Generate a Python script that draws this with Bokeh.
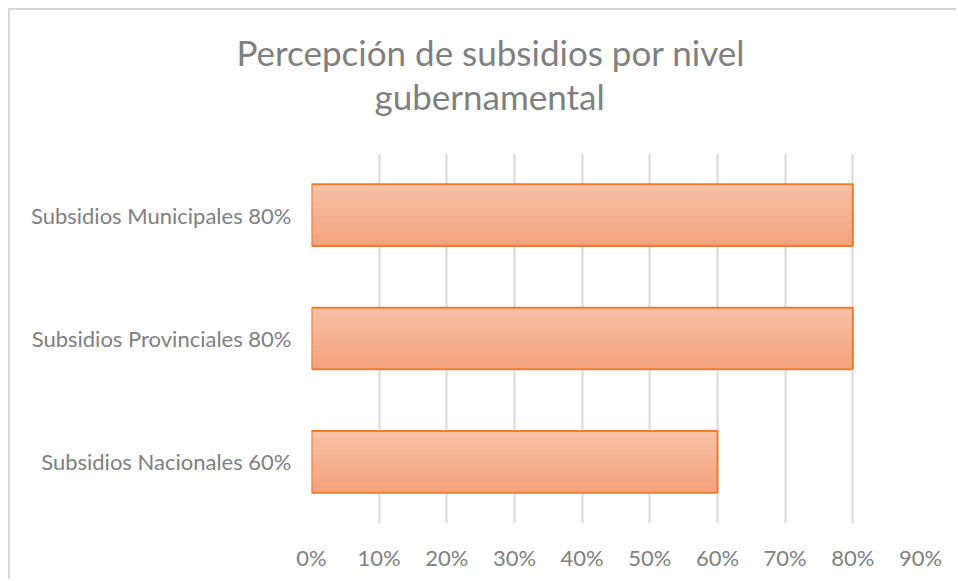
from bokeh.plotting import figure
from bokeh.models import Title, NumeralTickFormatter, FixedTicker, Range1d, ColumnDataSource
from bokeh.transform import dodge
from bokeh.embed import file_html
from bokeh.resources import INLINE

# ---- data ----
categories = ["Subsidios Nacionales 60%", "Subsidios Provinciales 80%", "Subsidios Municipales 80%"]
values = [0.60, 0.80, 0.80]
x_ticks = [0.0, 0.1, 0.2, 0.3, 0.4, 0.5, 0.6, 0.7, 0.8, 0.9]
title_line1 = "Percepción de subsidios por nivel"
title_line2 = "gubernamental"

# ---- style ----
FONT = "Lato"
GRAY = "#808080"
BAR_H = 0.5
N_STRIPS = 10
TOP_RGB = (247, 192, 165)
BOT_RGB = (244, 163, 127)
OUTLINE = "#ED7D31"

p = figure(width=948, height=571, y_range=categories, x_range=Range1d(0, 0.9),
           output_backend="svg", toolbar_location=None, title=None,
           min_border_left=301, min_border_right=38, min_border_bottom=58, min_border_top=143)
p.styles = {"margin-left": "10px", "margin-top": "10px",
            "box-shadow": "-2px -2px 0 0 #D9D9D9"}

# titles (two lines) with an empty spacer title next to the frame
spacer = Title(text=" ", align="left", text_font=FONT, text_font_size="29px",
               text_color="white", standoff=0)
t2 = Title(text=title_line2, align="left", text_font=FONT, text_font_size="35px",
           text_color=GRAY, text_font_style="normal", offset=63, standoff=0)
t1 = Title(text=title_line1, align="left", text_font=FONT, text_font_size="35px",
           text_color=GRAY, text_font_style="normal", offset=-75, standoff=0)
p.add_layout(spacer, "above")
p.add_layout(t2, "above")
p.add_layout(t1, "above")

# gradient bars as stacked strips
strip_h = BAR_H / N_STRIPS
src = ColumnDataSource(dict(cat=categories, val=values))
for i in range(N_STRIPS):
    f = i / (N_STRIPS - 1)
    r = int(TOP_RGB[0] + (BOT_RGB[0] - TOP_RGB[0]) * f)
    g = int(TOP_RGB[1] + (BOT_RGB[1] - TOP_RGB[1]) * f)
    b = int(TOP_RGB[2] + (BOT_RGB[2] - TOP_RGB[2]) * f)
    off = BAR_H / 2 - strip_h * (i + 0.5)
    h = strip_h * 1.8 if i < N_STRIPS - 1 else strip_h
    off2 = off - (h - strip_h) / 2
    p.hbar(y=dodge("cat", off2, range=p.y_range), right="val", left=0, height=h,
           source=src, fill_color="#%02x%02x%02x" % (r, g, b), line_color=None)
p.hbar(y="cat", right="val", left=0, height=BAR_H, source=src,
       fill_color=None, line_color=OUTLINE, line_width=2)

# axes
p.xaxis.ticker = FixedTicker(ticks=x_ticks)
p.xaxis.formatter = NumeralTickFormatter(format="0%")
for ax in (p.xaxis[0], p.yaxis[0]):
    ax.axis_line_color = None
    ax.major_tick_line_color = None
    ax.minor_tick_line_color = None
    ax.major_tick_out = 0
    ax.major_tick_in = 0
    ax.major_label_text_font = FONT
    ax.major_label_text_font_size = "22px"
    ax.major_label_text_color = GRAY
p.xaxis.major_label_standoff = 20
p.yaxis.major_label_standoff = 20

p.xgrid.grid_line_color = "#D9D9D9"
p.xgrid.grid_line_width = 2
p.ygrid.grid_line_color = None
p.outline_line_color = None
p.background_fill_color = "white"
p.border_fill_color = "white"

open("out.html", "w").write(file_html(p, INLINE))
